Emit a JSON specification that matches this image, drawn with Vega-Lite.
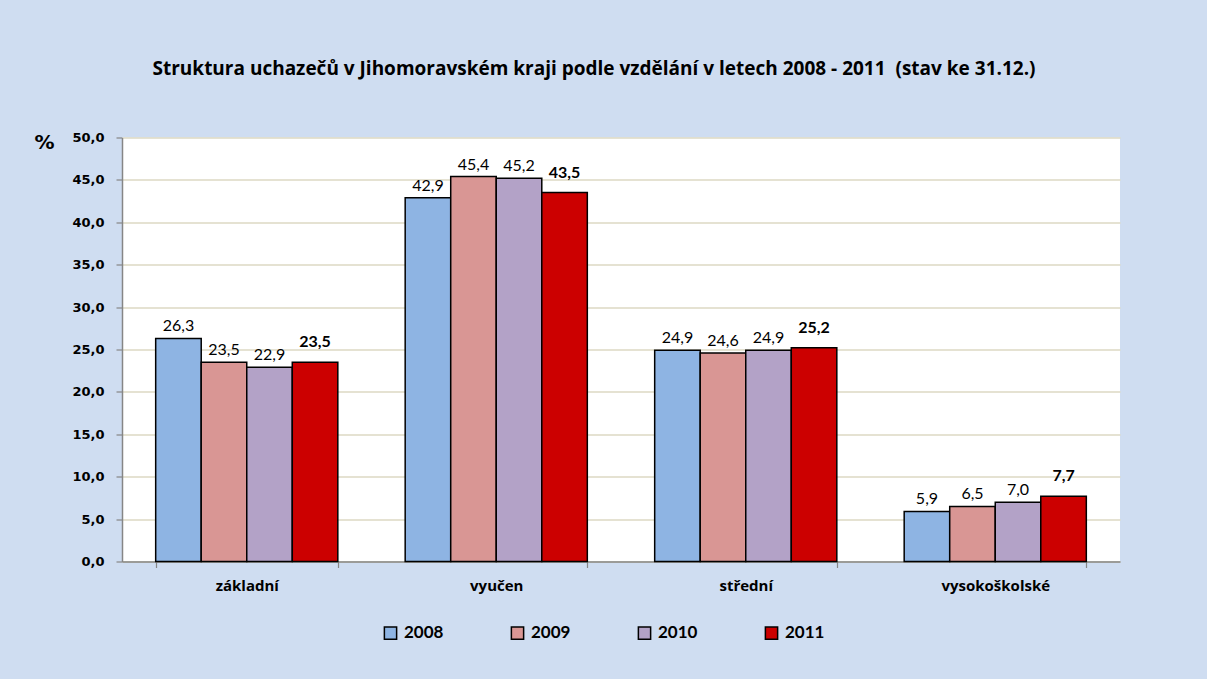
{
  "$schema": "https://vega.github.io/schema/vega-lite/v6.json",
  "width": 998,
  "height": 424,
  "autosize": {"type": "none"},
  "padding": {"left": 122, "top": 137.5, "right": 87, "bottom": 117.5},
  "background": "#CFDDF1",
  "title": {
    "text": "Struktura uchazečů v Jihomoravském kraji podle vzdělání v letech 2008 - 2011 \u00a0(stav ke 31.12.)",
    "font": "Open Sans",
    "fontSize": 19,
    "fontWeight": "bold",
    "color": "#000000",
    "anchor": "middle",
    "frame": "group",
    "baseline": "alphabetic",
    "offset": 38,
    "dx": -27
  },
  "config": {
    "locale": {"number": {"decimal": ",", "thousands": "\u00a0", "grouping": [3], "currency": ["", " Kč"]}},
    "view": {"stroke": null, "fill": "#FFFFFF"}
  },
  "data": {
    "values": [
      {"vzdelani": "základní", "rok": "2008", "hodnota": 26.3},
      {"vzdelani": "základní", "rok": "2009", "hodnota": 23.5},
      {"vzdelani": "základní", "rok": "2010", "hodnota": 22.9},
      {"vzdelani": "základní", "rok": "2011", "hodnota": 23.5},
      {"vzdelani": "vyučen", "rok": "2008", "hodnota": 42.9},
      {"vzdelani": "vyučen", "rok": "2009", "hodnota": 45.4},
      {"vzdelani": "vyučen", "rok": "2010", "hodnota": 45.2},
      {"vzdelani": "vyučen", "rok": "2011", "hodnota": 43.5},
      {"vzdelani": "střední", "rok": "2008", "hodnota": 24.9},
      {"vzdelani": "střední", "rok": "2009", "hodnota": 24.6},
      {"vzdelani": "střední", "rok": "2010", "hodnota": 24.9},
      {"vzdelani": "střední", "rok": "2011", "hodnota": 25.2},
      {"vzdelani": "vysokoškolské", "rok": "2008", "hodnota": 5.9},
      {"vzdelani": "vysokoškolské", "rok": "2009", "hodnota": 6.5},
      {"vzdelani": "vysokoškolské", "rok": "2010", "hodnota": 7.0},
      {"vzdelani": "vysokoškolské", "rok": "2011", "hodnota": 7.7}
    ]
  },
  "encoding": {
    "x": {
      "field": "vzdelani",
      "type": "nominal",
      "sort": ["základní", "vyučen", "střední", "vysokoškolské"],
      "scale": {"paddingInner": 0.27, "paddingOuter": 0.135},
      "axis": {
        "title": null,
        "labelAngle": 0,
        "labelFont": "Open Sans",
        "labelFontSize": 15,
        "labelFontWeight": "bold",
        "labelColor": "#000000",
        "labelPadding": 11,
        "labelBaseline": "top",
        "tickBand": "extent",
        "tickSize": 6,
        "tickColor": "#868686",
        "tickWidth": 1.2,
        "domainColor": "#868686",
        "domainWidth": 1.5,
        "grid": false
      }
    },
    "xOffset": {
      "field": "rok",
      "type": "nominal",
      "sort": ["2008", "2009", "2010", "2011"],
      "scale": {"paddingInner": 0, "paddingOuter": 0}
    },
    "y": {
      "field": "hodnota",
      "type": "quantitative",
      "scale": {"domain": [0, 50], "nice": false, "zero": true},
      "axis": {
        "values": [0, 5, 10, 15, 20, 25, 30, 35, 40, 45, 50],
        "format": ".1f",
        "title": "%",
        "titleAngle": 0,
        "titleX": -78,
        "titleY": 5,
        "titleAlign": "center",
        "titleBaseline": "middle",
        "titleFont": "DejaVu Sans",
        "titleFontSize": 20,
        "titleFontWeight": "bold",
        "titleColor": "#000000",
        "labelFont": "DejaVu Sans",
        "labelFontSize": 13,
        "labelFontWeight": "bold",
        "labelColor": "#000000",
        "labelPadding": 12,
        "tickSize": 6,
        "tickColor": "#868686",
        "tickWidth": 1.2,
        "domainColor": "#868686",
        "domainWidth": 1.5,
        "gridColor": "#DDD9C3",
        "gridWidth": 1.5
      }
    }
  },
  "layer": [
    {
      "mark": {"type": "bar", "stroke": "#000000", "strokeWidth": 1.5},
      "encoding": {
        "color": {
          "field": "rok",
          "type": "nominal",
          "scale": {"domain": ["2008", "2009", "2010", "2011"], "range": ["#8EB4E3", "#D99694", "#B3A2C7", "#CC0000"]},
          "legend": {
            "title": null,
            "orient": "none",
            "legendX": 260,
            "legendY": 487,
            "direction": "horizontal",
            "columns": 4,
            "columnPadding": 64,
            "padding": 0,
            "symbolType": "square",
            "symbolSize": 150,
            "symbolStrokeColor": "#000000",
            "symbolStrokeWidth": 1.5,
            "symbolOpacity": 1,
            "labelFont": "Lato",
            "labelFontSize": 17,
            "labelFontWeight": "bold",
            "labelColor": "#000000",
            "labelOffset": 5
          }
        }
      }
    },
    {
      "transform": [{"filter": "datum.rok != '2011'"}],
      "mark": {"type": "text", "font": "Lato", "fontSize": 16, "color": "#000000", "baseline": "alphabetic", "dy": -7},
      "encoding": {"text": {"field": "hodnota", "type": "quantitative", "format": ".1f"}}
    },
    {
      "transform": [{"filter": "datum.rok == '2011'"}],
      "mark": {"type": "text", "font": "Lato", "fontSize": 16, "fontWeight": "bold", "color": "#000000", "baseline": "alphabetic", "dy": -15},
      "encoding": {"text": {"field": "hodnota", "type": "quantitative", "format": ".1f"}}
    }
  ]
}
